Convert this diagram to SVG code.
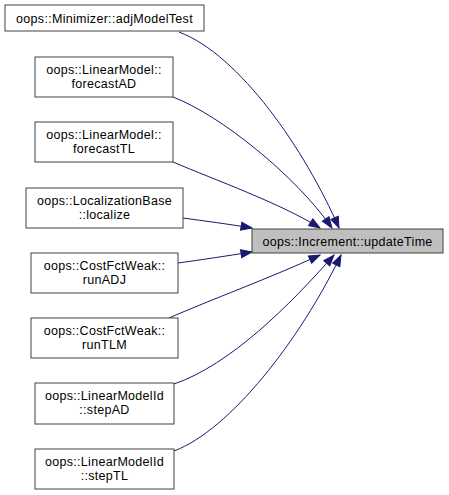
<svg xmlns="http://www.w3.org/2000/svg" width="449" height="495" viewBox="0 0 449 495">
<defs>
<style>
.node rect{fill:#ffffff;stroke:#404040;stroke-width:1}
#target rect{fill:#bfbfbf}
text{font-family:"Liberation Sans",Arial,Helvetica,sans-serif;font-size:12.5px;letter-spacing:0.3px;fill:#000000;text-anchor:middle}
.edge{fill:none;stroke:#191970;stroke-width:1;marker-end:url(#arrow)}
</style>
<marker id="arrow" markerUnits="userSpaceOnUse" markerWidth="13" markerHeight="10" refX="12" refY="5" orient="auto">
<path d="M1,1 L12,5 L1,9 Z" fill="#191970" stroke="#191970" stroke-width="1"/>
</marker>
</defs>
<g id="edges">
<path class="edge" d="M179,32 C240,55 305,150 339,228"/>
<path class="edge" d="M173,97 C220,115 295,175 332,228"/>
<path class="edge" d="M173,162 C215,180 280,203 320,228"/>
<path class="edge" d="M183,218 C205,221 228,224 252,228"/>
<path class="edge" d="M178,263 C200,260 226,256 252,252"/>
<path class="edge" d="M169,318 C210,300 270,278 320,255"/>
<path class="edge" d="M174,384 C230,365 290,305 334,255"/>
<path class="edge" d="M174,451 C230,430 300,340 341,255"/>
</g>
<g id="target" class="node">
<rect x="252" y="229" width="191" height="24"/>
<text x="347.5" y="245.5">oops::Increment::updateTime</text>
</g>
<g id="n1" class="node">
<rect x="5" y="5" width="199" height="26"/>
<text x="104.5" y="22.5">oops::Minimizer::adjModelTest</text>
</g>
<g id="n2" class="node">
<rect x="35" y="57" width="138" height="40"/>
<text x="104" y="73.5">oops::LinearModel::</text>
<text x="104" y="87.5">forecastAD</text>
</g>
<g id="n3" class="node">
<rect x="35" y="122" width="138" height="40"/>
<text x="104" y="138.5">oops::LinearModel::</text>
<text x="104" y="152.5">forecastTL</text>
</g>
<g id="n4" class="node">
<rect x="26" y="188" width="157" height="40"/>
<text x="104.5" y="204.5">oops::LocalizationBase</text>
<text x="104.5" y="218.5">::localize</text>
</g>
<g id="n5" class="node">
<rect x="31" y="253" width="147" height="40"/>
<text x="104.5" y="269.5">oops::CostFctWeak::</text>
<text x="104.5" y="283.5">runADJ</text>
</g>
<g id="n6" class="node">
<rect x="31" y="318" width="147" height="40"/>
<text x="104.5" y="334.5">oops::CostFctWeak::</text>
<text x="104.5" y="348.5">runTLM</text>
</g>
<g id="n7" class="node">
<rect x="35" y="383" width="139" height="41"/>
<text x="104.5" y="399.5">oops::LinearModelId</text>
<text x="104.5" y="413.5">::stepAD</text>
</g>
<g id="n8" class="node">
<rect x="35" y="449" width="139" height="40"/>
<text x="104.5" y="465.5">oops::LinearModelId</text>
<text x="104.5" y="479.5">::stepTL</text>
</g>
</svg>
